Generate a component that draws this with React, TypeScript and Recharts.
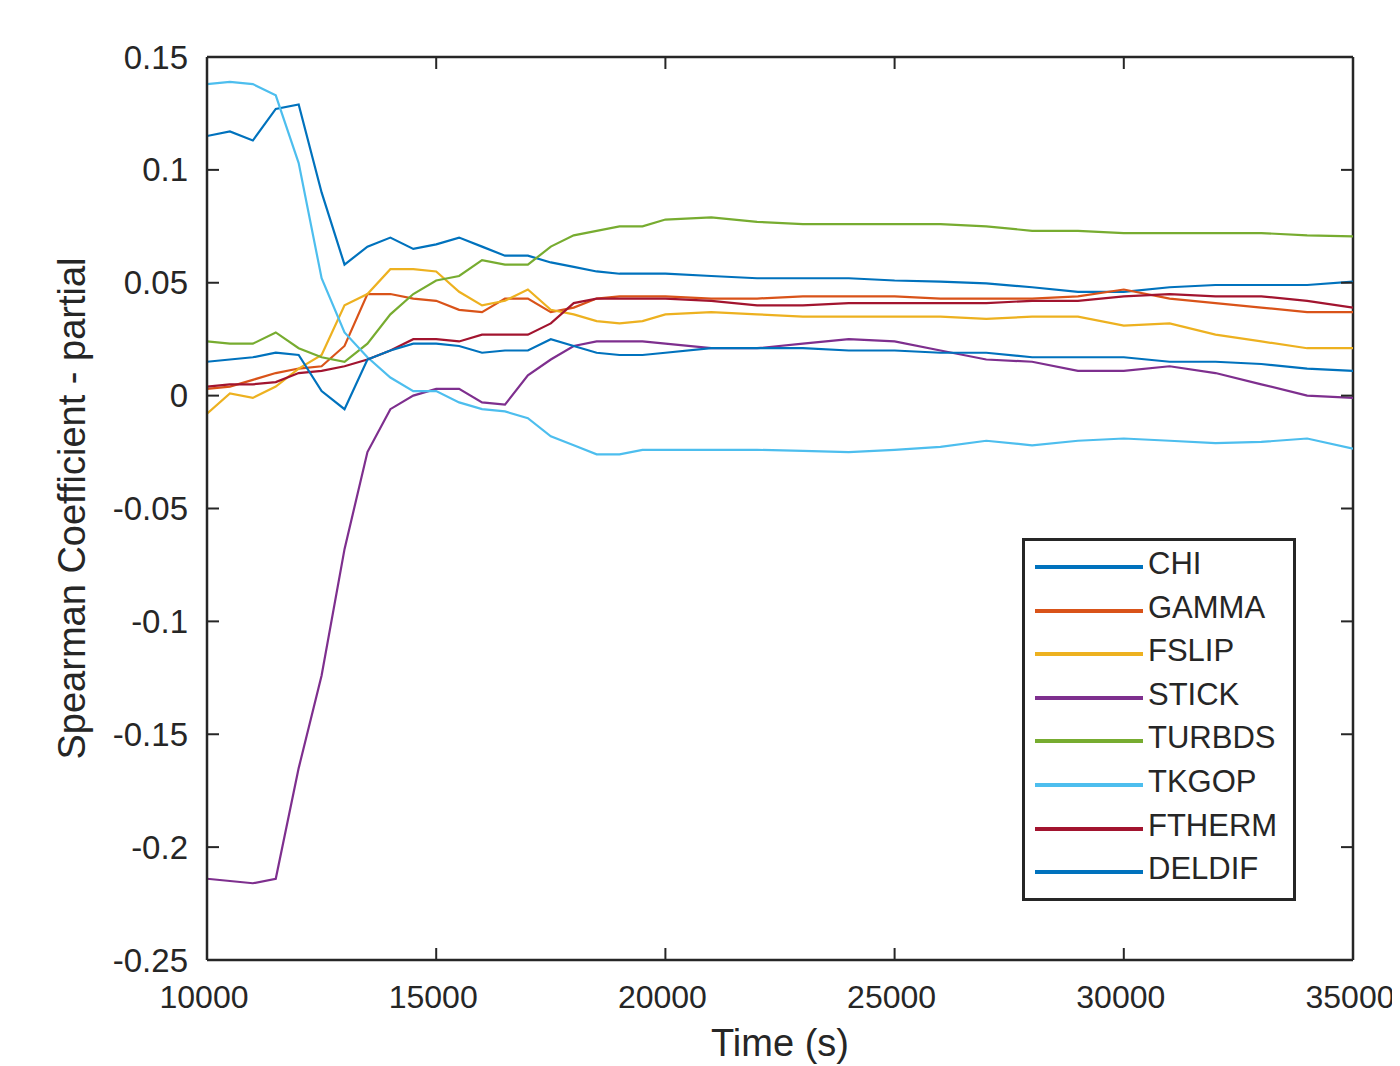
import React from "react";
import { LineChart, Line, XAxis, YAxis, ReferenceLine, Legend, Label } from "recharts";

// sample times (s)
const time = [
  10000, 10500, 11000, 11500, 12000, 12500, 13000, 13500, 14000, 14500, 15000,
  15500, 16000, 16500, 17000, 17500, 18000, 18500, 19000, 19500, 20000,
  21000, 22000, 23000, 24000, 25000, 26000, 27000, 28000, 29000, 30000,
  31000, 32000, 33000, 34000, 35000,
];

const chi = [
  0.115, 0.117, 0.113, 0.127, 0.129, 0.09, 0.058, 0.066, 0.07, 0.065, 0.067,
  0.07, 0.066, 0.062, 0.062, 0.059, 0.057, 0.055, 0.054, 0.054, 0.054,
  0.053, 0.052, 0.052, 0.052, 0.051, 0.0505, 0.0497, 0.048, 0.046, 0.046,
  0.048, 0.049, 0.049, 0.049, 0.0505,
];
const gamma = [
  0.003, 0.004, 0.007, 0.01, 0.012, 0.013, 0.022, 0.045, 0.045, 0.043, 0.042,
  0.038, 0.037, 0.043, 0.043, 0.037, 0.039, 0.043, 0.044, 0.044, 0.044,
  0.043, 0.043, 0.044, 0.044, 0.044, 0.043, 0.043, 0.043, 0.044, 0.047,
  0.043, 0.041, 0.039, 0.037, 0.037,
];
const fslip = [
  -0.008, 0.001, -0.001, 0.004, 0.012, 0.018, 0.04, 0.045, 0.056, 0.056, 0.055,
  0.046, 0.04, 0.042, 0.047, 0.038, 0.036, 0.033, 0.032, 0.033, 0.036,
  0.037, 0.036, 0.035, 0.035, 0.035, 0.035, 0.034, 0.035, 0.035, 0.031,
  0.032, 0.027, 0.024, 0.021, 0.021,
];
const stick = [
  -0.214, -0.215, -0.216, -0.214, -0.165, -0.124, -0.068, -0.025, -0.006, 0.0, 0.003,
  0.003, -0.003, -0.004, 0.009, 0.016, 0.022, 0.024, 0.024, 0.024, 0.023,
  0.021, 0.021, 0.023, 0.025, 0.024, 0.02, 0.016, 0.015, 0.011, 0.011,
  0.013, 0.01, 0.005, 0.0, -0.001,
];
const turbds = [
  0.024, 0.023, 0.023, 0.028, 0.021, 0.017, 0.015, 0.023, 0.036, 0.045, 0.051,
  0.053, 0.06, 0.058, 0.058, 0.066, 0.071, 0.073, 0.075, 0.075, 0.078,
  0.079, 0.077, 0.076, 0.076, 0.076, 0.076, 0.075, 0.073, 0.073, 0.072,
  0.072, 0.072, 0.072, 0.071, 0.0705,
];
const tkgop = [
  0.138, 0.139, 0.138, 0.133, 0.103, 0.052, 0.028, 0.017, 0.008, 0.002, 0.002,
  -0.003, -0.006, -0.007, -0.01, -0.018, -0.022, -0.026, -0.026, -0.024, -0.024,
  -0.024, -0.024, -0.0245, -0.025, -0.024, -0.0227, -0.02, -0.022, -0.02, -0.019,
  -0.02, -0.021, -0.0205, -0.019, -0.0235,
];
const ftherm = [
  0.004, 0.005, 0.005, 0.006, 0.01, 0.011, 0.013, 0.016, 0.02, 0.025, 0.025,
  0.024, 0.027, 0.027, 0.027, 0.032, 0.041, 0.043, 0.043, 0.043, 0.043,
  0.042, 0.04, 0.04, 0.041, 0.041, 0.041, 0.041, 0.042, 0.042, 0.044,
  0.045, 0.044, 0.044, 0.042, 0.039,
];
const deldif = [
  0.015, 0.016, 0.017, 0.019, 0.018, 0.002, -0.006, 0.016, 0.02, 0.023, 0.023,
  0.022, 0.019, 0.02, 0.02, 0.025, 0.022, 0.019, 0.018, 0.018, 0.019,
  0.021, 0.021, 0.021, 0.02, 0.02, 0.019, 0.019, 0.017, 0.017, 0.017,
  0.015, 0.015, 0.014, 0.012, 0.011,
];

const seriesNames = ["CHI", "GAMMA", "FSLIP", "STICK", "TURBDS", "TKGOP", "FTHERM", "DELDIF"];
const seriesValues = [chi, gamma, fslip, stick, turbds, tkgop, ftherm, deldif];
const seriesColors = ["#0072BD", "#D95319", "#EDB120", "#7E2F8E", "#77AC30", "#4DBEEE", "#A2142F", "#0072BD"];

const xTicks = [10000, 15000, 20000, 25000, 30000, 35000];
const yTicks = [-0.25, -0.2, -0.15, -0.1, -0.05, 0, 0.05, 0.1, 0.15];

const rows = time.map((t, i) => {
  const row: Record<string, number> = { time: t };
  seriesNames.forEach((name, k) => {
    row[name] = seriesValues[k][i];
  });
  return row;
});

const FONT = '"Liberation Sans", Arial, sans-serif';
const INK = "#262626";
const W = 1392;
const H = 1058;
const PLOT_TOP = 49;
const PLOT_LEFT = 199;
const PLOT_RIGHT = 1345;
const PLOT_BOTTOM = 952;
const TICK_LEN = 12;

const XTick = ({ x, payload }: any) => (
  <g>
    <line x1={x} x2={x} y1={PLOT_BOTTOM} y2={PLOT_BOTTOM - TICK_LEN} stroke={INK} strokeWidth={2} />
    <line x1={x} x2={x} y1={PLOT_TOP} y2={PLOT_TOP + TICK_LEN} stroke={INK} strokeWidth={2} />
    <text x={x - 3} y={PLOT_BOTTOM + 25} dy="0.71em" textAnchor="middle" fontFamily={FONT} fontSize={32} fill={INK}>
      {payload.value}
    </text>
  </g>
);

const YTick = ({ y, payload }: any) => (
  <g>
    <line x1={PLOT_LEFT} x2={PLOT_LEFT + TICK_LEN} y1={y} y2={y} stroke={INK} strokeWidth={2} />
    <line x1={PLOT_RIGHT} x2={PLOT_RIGHT - TICK_LEN} y1={y} y2={y} stroke={INK} strokeWidth={2} />
    <text x={180} y={y} dy="0.35em" textAnchor="end" fontFamily={FONT} fontSize={33} fill={INK}>
      {String(Number(payload.value.toFixed(2)))}
    </text>
  </g>
);

const XTitle = ({ viewBox }: any) => (
  <text
    x={viewBox.x + viewBox.width / 2}
    y={viewBox.y + viewBox.height - 10}
    textAnchor="middle"
    fontFamily={FONT}
    fontSize={38}
    fill={INK}
  >
    Time (s)
  </text>
);

const YTitle = ({ viewBox }: any) => {
  const cx = 64;
  const cy = viewBox.y + viewBox.height / 2;
  return (
    <text
      x={cx}
      y={cy}
      dy="0.35em"
      transform={`rotate(-90, ${cx}, ${cy})`}
      textAnchor="middle"
      fontFamily={FONT}
      fontSize={38}
      fill={INK}
    >
      Spearman Coefficient - partial
    </text>
  );
};

const LegendBox = () => (
  <div
    style={{
      width: 274,
      height: 363,
      boxSizing: "border-box",
      border: `3px solid ${INK}`,
      background: "#fff",
      position: "relative",
      fontFamily: FONT,
      fontSize: 31,
      color: INK,
    }}
  >
    {seriesNames.map((name, i) => (
      <div
        key={name}
        style={{
          position: "absolute",
          left: 10,
          top: 6 + i * 43.6,
          height: 40,
          display: "flex",
          alignItems: "center",
          whiteSpace: "nowrap",
        }}
      >
        <span
          style={{
            display: "inline-block",
            width: 108,
            height: 4,
            background: seriesColors[i],
            marginRight: 5,
          }}
        />
        <span style={{ position: "relative", top: -3 }}>{name}</span>
      </div>
    ))}
  </div>
);

export default function App() {
  return (
    <LineChart width={W} height={H} data={rows} margin={{ top: PLOT_TOP, right: W - PLOT_RIGHT, bottom: 0, left: 0 }}>
      <XAxis
        dataKey="time"
        type="number"
        domain={[10000, 35000]}
        ticks={xTicks}
        interval={0}
        height={H - PLOT_BOTTOM}
        tick={<XTick />}
        tickLine={false}
        axisLine={{ stroke: INK, strokeWidth: 2.5 }}
        allowDataOverflow
      >
        <Label content={<XTitle />} />
      </XAxis>
      <YAxis
        type="number"
        domain={[-0.25, 0.15]}
        ticks={yTicks}
        interval={0}
        width={PLOT_LEFT}
        tick={<YTick />}
        tickLine={false}
        axisLine={{ stroke: INK, strokeWidth: 2.5 }}
        allowDataOverflow
      >
        <Label content={<YTitle />} />
      </YAxis>
      <ReferenceLine y={0.15} stroke={INK} strokeWidth={2.5} />
      <ReferenceLine x={35000} stroke={INK} strokeWidth={2.5} />
      {seriesNames.map((name, i) => (
        <Line
          key={name}
          type="linear"
          dataKey={name}
          stroke={seriesColors[i]}
          strokeWidth={2.2}
          dot={false}
          isAnimationActive={false}
        />
      ))}
      <Legend
        layout="horizontal"
        verticalAlign="middle"
        align="center"
        wrapperStyle={{ left: 1014, top: 530, width: 274, height: 363 }}
        content={<LegendBox />}
      />
    </LineChart>
  );
}
